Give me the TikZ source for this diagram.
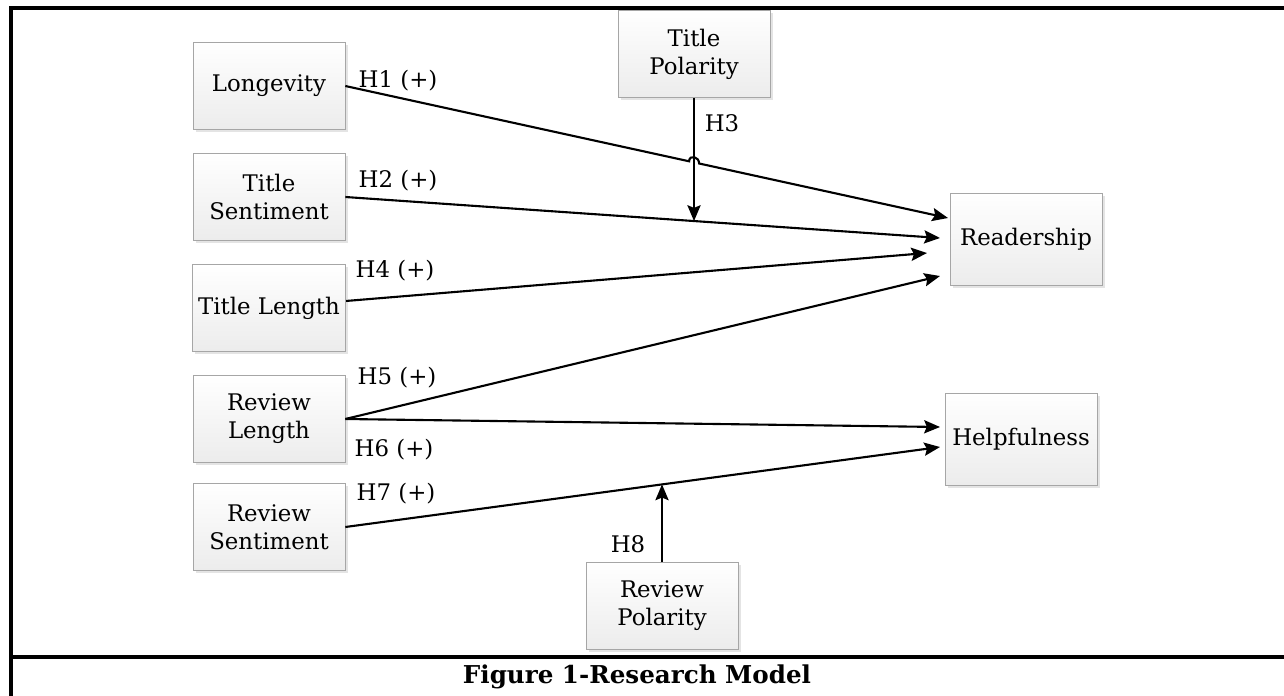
\documentclass[tikz,border=0pt]{standalone}
\usepackage{fontspec}
\setmainfont{DejaVu Serif}
\usepackage{tikz}
\usetikzlibrary{arrows.meta,shadows,calc}

\tikzset{
  var/.style={draw=gray!70, top color=white, bottom color=gray!15,
    minimum width=3.04cm, minimum height=1.74cm, align=center,
    font=\fontsize{13}{16}\selectfont,
    drop shadow={shadow xshift=1.5pt, shadow yshift=-1.5pt, fill=gray!35, opacity=0.6}},
  hyp/.style={font=\fontsize{13}{16}\selectfont},
  link/.style={line width=1.2pt, -{Stealth[length=9pt,width=7.5pt,inset=1.5pt]}},
  frame/.style={line width=1.8pt}
}

\begin{document}
\begin{tikzpicture}[x=0.02cm, y=-0.02cm]
        \useasboundingbox (0,0) rectangle (1284,696);
        \draw [frame] (1284,8) -- (11,8) -- (11,696);                  %frame
        \draw [frame] (11,657) -- (1284,657);                          %caption row

        \node [var] (lon)   at (269,86)  {Longevity};                  %
        \node [var] (tsent) at (269,197) {Title\\Sentiment};           %
        \node [var] (tlen)  at (269,308) {Title Length};               %
        \node [var] (rlen)  at (269,419) {Review\\Length};             %
        \node [var] (rsent) at (269,527) {Review\\Sentiment};          %
        \node [var] (tpol)  at (694,54)  {Title\\Polarity};            %moderator
        \node [var] (rpol)  at (662,606) {Review\\Polarity};           %moderator
        \node [var, minimum height=1.84cm] (read) at (1026,239) {Readership};
        \node [var, minimum height=1.84cm] (help) at (1021,439) {Helpfulness};

        \coordinate (r1) at (948,218);                                 %tips
        \coordinate (r2) at (940,238);                                 %
        \coordinate (r3) at (927,253);                                 %
        \coordinate (r4) at (940,276);                                 %
        \coordinate (h1) at (940,427);                                 %
        \coordinate (h2) at (940,447);                                 %

        \coordinate (j1) at ($(lon.east)!0.5705!(r1)$);                %hop
        \coordinate (j2) at ($(lon.east)!0.587!(r1)$);                 %
        \draw [link] (lon.east) -- (j1) .. controls +(0,-7) and +(0,-7) .. (j2) -- (r1);
        \draw [link] (tsent.east) -- (r2);                             %H2
        \draw [link] ([yshift=4pt]tlen.east) -- (r3);                  %H4
        \draw [link] (rlen.east) -- (r4);                              %H5
        \draw [link] (rlen.east) -- (h1);                              %H6
        \draw [link] (rsent.east) -- (h2);                             %H7

        \coordinate (m3) at ($(tsent.east)!0.587!(r2)$);               %
        \draw [link] (tpol.south) -- (tpol.south |- m3);               %H3
        \coordinate (m8) at ($(rsent.east)!0.5328!(h2)$);              %
        \draw [link] (rpol.north) -- (rpol.north |- m8);               %H8

        \node [hyp] (l1) at (398,81)  {H1 (+)};                        %
        \node [hyp] (l2) at (398,181) {H2 (+)};                        %
        \node [hyp] (l3) at (722,123) {H3};                            %
        \node [hyp] (l4) at (395,271) {H4 (+)};                        %
        \node [hyp] (l5) at (397,378) {H5 (+)};                        %
        \node [hyp] (l6) at (394,450) {H6 (+)};                        %
        \node [hyp] (l7) at (396,494) {H7 (+)};                        %
        \node [hyp] (l8) at (628,544) {H8};                            %

        \node [font=\bfseries\fontsize{14}{17}\selectfont] (cap) at (637,677) {Figure 1-Research Model};
      \end{tikzpicture}
\end{document}
